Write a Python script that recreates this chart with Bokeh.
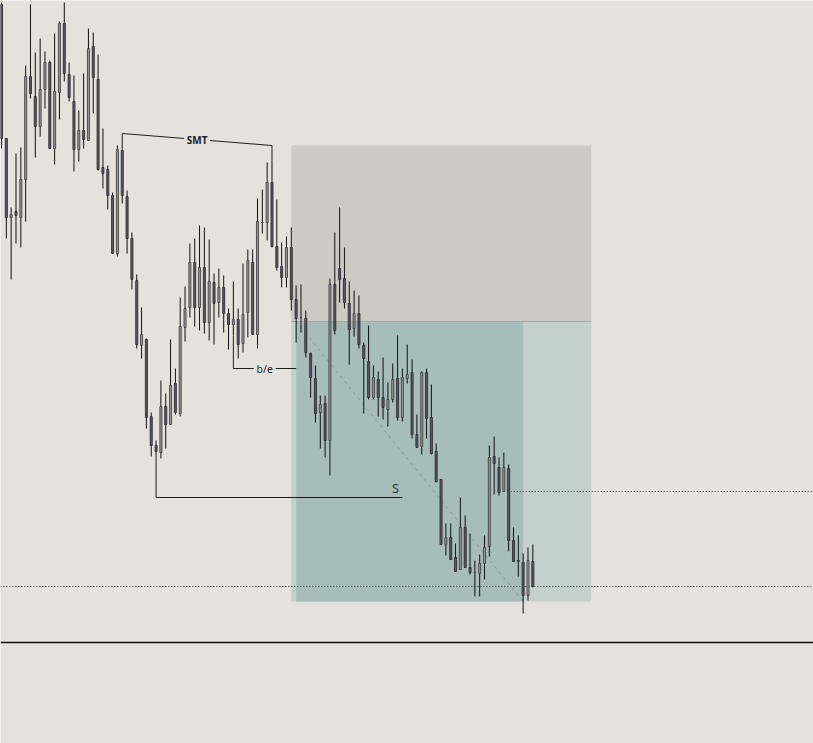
from bokeh.plotting import figure
from bokeh.models import Range1d, ColumnDataSource, Span
from bokeh.core.properties import value
from bokeh.embed import file_html
from bokeh.resources import INLINE

# ---- candle data (price units) ----
opens = [996, 862, 783, 789, 783, 821, 924, 904, 874, 911, 938, 852, 908, 977, 926, 899, 851, 870, 860, 954,
         921, 833, 831, 805, 747, 850, 804, 762, 720, 655, 661, 584, 555, 548, 594, 576, 617, 587, 673, 693,
         738, 693, 733, 678, 718, 698, 713, 687, 676, 681, 657, 688, 738, 666, 778, 778, 818, 754, 734, 723,
         753, 701, 683, 682, 647, 622, 588, 597, 560, 716, 732, 722, 697, 672, 687, 655, 639, 603, 621, 603,
         591, 601, 622, 583, 622, 628, 566, 554, 628, 583, 549, 521, 456, 463, 443, 431, 473, 433, 428, 427,
         437, 454, 544, 533, 509, 532, 460, 440, 438, 405, 439]
highs = [998, 862, 793, 847, 853, 935, 996, 948, 962, 949, 940, 967, 979, 998, 938, 925, 890, 927, 972, 968,
         946, 872, 835, 808, 855, 852, 810, 768, 726, 693, 662, 588, 560, 620, 607, 661, 632, 703, 714, 757,
         762, 775, 773, 761, 727, 732, 725, 692, 719, 692, 737, 751, 751, 802, 811, 838, 840, 801, 758, 764,
         773, 715, 716, 690, 648, 635, 605, 605, 722, 768, 793, 753, 719, 710, 705, 658, 675, 635, 629, 643,
         618, 637, 665, 632, 656, 641, 586, 629, 632, 616, 557, 521, 477, 477, 457, 503, 485, 467, 440, 446,
         465, 555, 564, 543, 548, 536, 473, 465, 447, 453, 456]
lows = [852, 762, 721, 757, 753, 779, 902, 843, 864, 892, 852, 836, 881, 919, 899, 829, 839, 852, 860, 887,
        830, 812, 791, 747, 744, 797, 747, 711, 652, 642, 572, 544, 543, 542, 552, 576, 586, 584, 659, 683,
        674, 670, 667, 660, 656, 683, 668, 651, 665, 642, 648, 663, 666, 652, 767, 760, 753, 730, 713, 713,
        690, 658, 668, 643, 603, 578, 552, 543, 525, 666, 698, 692, 636, 664, 652, 587, 601, 601, 584, 581,
        574, 598, 580, 579, 617, 562, 553, 546, 562, 546, 518, 456, 445, 441, 429, 431, 433, 426, 404, 404,
        421, 444, 506, 505, 509, 449, 439, 424, 387, 400, 413]
closes = [862, 783, 786, 785, 821, 924, 907, 874, 911, 938, 852, 909, 977, 927, 903, 851, 870, 861, 952, 923,
          831, 827, 805, 747, 851, 805, 762, 721, 656, 666, 583, 555, 549, 594, 576, 615, 588, 674, 692, 738,
          693, 733, 678, 719, 697, 713, 687, 676, 681, 656, 686, 740, 666, 779, 778, 818, 754, 733, 723, 753,
          701, 682, 683, 648, 623, 587, 596, 560, 716, 670, 721, 698, 671, 687, 656, 642, 603, 623, 603, 593,
          601, 621, 583, 623, 626, 566, 553, 628, 582, 547, 519, 456, 463, 441, 429, 473, 433, 428, 428, 437,
          453, 543, 537, 508, 533, 460, 439, 439, 405, 440, 414]

# ---- drawing-tool anchors (bar index, price) ----
SMT_X = [25, 56]
SMT_Y = [867, 855]
BE_X = [48, 61]
BE_Y = 632
S_X = [32, 83]
S_Y = 503
S_LABEL_X = 81.6
S_LABEL_Y = 513

POS_X = [60, 122.1]        # short position tool extent
ACTIVE_X = [61, 108]       # bars while trade was open
STOP = 855
ENTRY = 679
TARGET = 399

LEVEL_X = 104.8
LEVEL = 509
AXIS_LINE = 358

# ---- styling ----
BG = "#e5e2de"
W, H = 813, 743
X_START, X_END = -0.207, 168.11
Y_START, Y_END = 257, 1000
PX_X = W / (X_END - X_START)

p = figure(width=W, height=H, output_backend="svg", toolbar_location=None,
           x_range=Range1d(X_START, X_END), y_range=Range1d(Y_START, Y_END),
           x_axis_location=None, y_axis_location=None, min_border=0,
           background_fill_color=BG, border_fill_color=BG, outline_line_color=None)
p.grid.visible = False

# position tool boxes
p.quad(left=[POS_X[0]], right=[POS_X[1]], bottom=[ENTRY], top=[STOP],
       fill_color="#cdc9c5", line_color=None)
p.quad(left=[POS_X[0]], right=[POS_X[1]], bottom=[TARGET], top=[ENTRY],
       fill_color="#c3d0cc", line_color=None)
p.quad(left=[ACTIVE_X[0]], right=[ACTIVE_X[1]], bottom=[TARGET], top=[ENTRY],
       fill_color="#a7bdba", line_color=None)
p.line(x=POS_X, y=[ENTRY, ENTRY], line_color="#9ea8a6", line_width=1)
p.line(x=ACTIVE_X, y=[ENTRY, TARGET], line_color="#8a9e9b", line_width=1, line_dash="3 4")

# dotted price lines
p.line(x=[LEVEL_X, X_END], y=[LEVEL, LEVEL], line_color="#333333", line_width=1, line_dash="1 2")
p.line(x=[X_START - 5, X_END], y=[closes[-1], closes[-1]], line_color="#333333", line_width=1, line_dash="1 2")
p.add_layout(Span(location=AXIS_LINE, dimension="width", line_color="#111111", line_width=1.4))

# candles
idx = list(range(len(opens)))
up = [c >= o for o, c in zip(opens, closes)]
src = ColumnDataSource(dict(
    x=idx, o=opens, h=highs, l=lows, c=closes,
    top=[max(o, c) for o, c in zip(opens, closes)],
    bot=[min(o, c) for o, c in zip(opens, closes)],
    fill=["#999999" if u else "#5b5b66" for u in up],
    edge=["#444444" if u else "#2e2e33" for u in up],
))
p.segment(x0="x", y0="h", x1="x", y1="l", source=src, line_color="#111111", line_width=1)
p.vbar(x="x", top="top", bottom="bot", width=0.42, source=src,
       fill_color="fill", line_color="edge", line_width=0.9)

INK = "#1e1e1e"

# SMT line (with gap for the label)
def split(x0, y0, x1, y1, gap_px):
    xm, ym = (x0 + x1) / 2, (y0 + y1) / 2
    half = gap_px / 2 / PX_X
    k = (y1 - y0) / (x1 - x0)
    return ([[x0, xm - half], [xm + half, x1]],
            [[y0, ym - half * k], [ym + half * k, y1]], xm, ym)

xs, ys, smx, smy = split(SMT_X[0], SMT_Y[0], SMT_X[1], SMT_Y[1], 26)
p.multi_line(xs=xs, ys=ys, line_color=INK, line_width=1)
p.segment(x0=SMT_X, y0=SMT_Y, x1=SMT_X, y1=[highs[SMT_X[0]], highs[SMT_X[1]]],
          line_color=INK, line_width=1)
p.text(x=[smx], y=[smy], text=["SMT"], text_align="center", text_baseline="middle",
       text_font=value("Noto Sans"), text_font_size="10px", text_font_style="bold", text_color=INK)

# b/e line
xs, ys, bmx, bmy = split(BE_X[0], BE_Y, BE_X[1], BE_Y, 22)
p.multi_line(xs=xs, ys=ys, line_color=INK, line_width=1)
p.segment(x0=[BE_X[0]], y0=[lows[BE_X[0]]], x1=[BE_X[0]], y1=[BE_Y], line_color=INK, line_width=1)
p.text(x=[bmx], y=[bmy], text=["b/e"], text_align="center", text_baseline="middle",
       text_font=value("Noto Sans"), text_font_size="10.5px", text_color=INK)

# S line
p.line(x=S_X, y=[S_Y, S_Y], line_color=INK, line_width=1)
p.segment(x0=[S_X[0]], y0=[lows[S_X[0]]], x1=[S_X[0]], y1=[S_Y], line_color=INK, line_width=1)
p.text(x=[S_LABEL_X], y=[S_LABEL_Y], text=["S"], text_align="center", text_baseline="middle",
       text_font=value("Noto Sans"), text_font_size="13px", text_color="#333333")

open("out.html", "w").write(file_html(p, INLINE))
